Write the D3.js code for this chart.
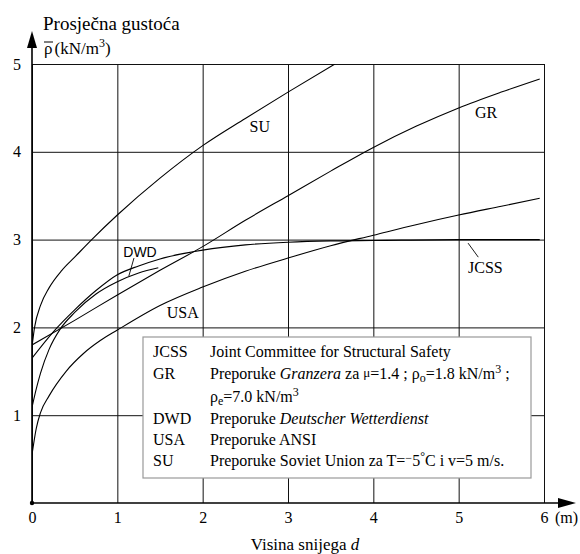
<!DOCTYPE html>
<html>
  <head>
    <meta charset="utf-8">
    <script src="https://cdn.jsdelivr.net/npm/d3@7"></script>
    <title>Prosjecna gustoca snijega</title>
  </head>
  <body style="margin:0">
    <div id="chart"></div>
    <script>
    // values: snow depth d (m) -> mean density (kN/m3)
    var depthSU   = [0, 0.03, 0.1, 0.2, 0.35, 0.5, 0.7, 1, 1.5, 2, 2.5, 3, 3.55];
    var densitySU = [1.78, 2.0, 2.25, 2.45, 2.65, 2.8, 3.0, 3.28, 3.7, 4.07, 4.38, 4.68, 5.0];

    var depthGR   = [0, 0.5, 1, 1.5, 2, 2.5, 3, 3.5, 4, 4.5, 5, 5.5, 5.95];
    var densityGR = [1.8, 2.08, 2.37, 2.65, 2.92, 3.22, 3.5, 3.78, 4.05, 4.29, 4.5, 4.68, 4.83];

    var depthJCSS   = [0, 0.25, 0.5, 0.75, 1, 1.25, 1.5, 2, 2.5, 3, 3.5, 4, 5, 5.95];
    var densityJCSS = [1.65, 1.95, 2.2, 2.42, 2.6, 2.7, 2.78, 2.88, 2.94, 2.97, 2.985, 2.99, 3.0, 3.0];

    var depthDWD   = [0, 0.05, 0.1, 0.2, 0.33, 0.5, 0.75, 1, 1.25, 1.48];
    var densityDWD = [1.09, 1.3, 1.48, 1.75, 1.98, 2.17, 2.38, 2.52, 2.62, 2.68];

    var depthUSA   = [0, 0.05, 0.1, 0.2, 0.4, 0.6, 0.8, 1, 1.5, 2, 2.5, 3, 3.5, 4, 4.5, 5, 5.5, 5.95];
    var densityUSA = [0.55, 0.85, 1.03, 1.22, 1.5, 1.7, 1.85, 1.97, 2.25, 2.46, 2.64, 2.79, 2.93, 3.05, 3.17, 3.28, 3.38, 3.47];

    var xTicks = [0, 1, 2, 3, 4, 5, 6];
    var yTicks = [1, 2, 3, 4, 5];
    var legendCodes = ["JCSS", "GR", "DWD", "USA", "SU"];

    var w = 580, h = 554;
    var serif = "Liberation Serif";
    var x = d3.scaleLinear().domain([0, 6]).range([32, 544]);
    var y = d3.scaleLinear().domain([0, 5]).range([503, 64]);

    var svg = d3.select("#chart").append("svg")
        .attr("width", w)
        .attr("height", h)
        .style("font-family", serif)
        .style("background", "#fff");

    svg.append("defs").append("clipPath").attr("id", "plot")
      .append("rect")
        .attr("x", x(0)).attr("y", y(5))
        .attr("width", x(6) - x(0)).attr("height", y(0) - y(5));

    // grid + tick labels from the axes
    var yAxis = svg.append("g")
        .attr("transform", "translate(" + x(0) + ",0)")
        .call(d3.axisLeft(y).tickValues(yTicks).tickFormat(d3.format("d"))
          .tickSize(-(x(6) - x(0))).tickPadding(11));
    var xAxis = svg.append("g")
        .attr("transform", "translate(0," + y(0) + ")")
        .call(d3.axisBottom(x).tickValues(xTicks).tickFormat(d3.format("d"))
          .tickSize(-(y(0) - y(5))).tickPadding(9));

    [xAxis, yAxis].forEach(function(g) {
      g.attr("font-family", null);
      g.select(".domain").remove();
      g.selectAll(".tick line").attr("stroke", "#111").attr("stroke-width", 1);
      g.selectAll(".tick text")
        .style("font-family", serif)
        .attr("font-size", 16)
        .attr("fill", "#000");
    });

    // main axes with arrows
    svg.append("line").attr("x1", x(0)).attr("y1", y(0)).attr("x2", x(0)).attr("y2", 40)
        .attr("stroke", "#000").attr("stroke-width", 1.6);
    svg.append("line").attr("x1", x(0)).attr("y1", y(0)).attr("x2", 566).attr("y2", y(0))
        .attr("stroke", "#000").attr("stroke-width", 1.6);
    svg.append("path").attr("d", "M" + x(0) + ",31 L" + (x(0) - 5) + ",48 L" + (x(0) + 5) + ",48 Z");
    svg.append("path").attr("d", "M576," + y(0) + " L558," + (y(0) - 5) + " L558," + (y(0) + 5) + " Z");
    svg.append("circle").attr("cx", x(0)).attr("cy", y(0)).attr("r", 2.2);

    // curves
    var line = d3.line()
        .x(function(d) { return x(d[0]); })
        .y(function(d) { return y(d[1]); })
        .curve(d3.curveMonotoneX);

    var series = [
      [depthJCSS, densityJCSS],
      [depthGR, densityGR],
      [depthDWD, densityDWD],
      [depthUSA, densityUSA],
      [depthSU, densitySU]
    ];

    svg.append("g").attr("clip-path", "url(#plot)")
      .selectAll("path")
      .data(series)
      .enter().append("path")
        .attr("d", function(s) { return line(d3.zip(s[0], s[1])); })
        .attr("fill", "none")
        .attr("stroke", "#000")
        .attr("stroke-width", 1.1);

    // curve labels
    function label(d, v, t, size) {
      return svg.append("text").attr("x", x(d)).attr("y", y(v))
        .style("font-family", serif).attr("font-size", size || 16).text(t);
    }
    label(2.55, 4.23, "SU");
    label(5.19, 4.38, "GR");
    label(5.11, 2.62, "JCSS");
    label(1.58, 2.11, "USA");
    label(1.07, 2.8, "DWD", 14).style("font-family", "Liberation Sans");
    svg.append("line").attr("x1", x(1.195)).attr("y1", y(2.79)).attr("x2", x(1.135)).attr("y2", y(2.585))
        .attr("stroke", "#000").attr("stroke-width", 0.9);
    svg.append("line").attr("x1", x(5.11)).attr("y1", y(2.96)).attr("x2", x(5.23)).attr("y2", y(2.8))
        .attr("stroke", "#000").attr("stroke-width", 0.9);

    // axis titles
    svg.append("text").attr("x", 43).attr("y", 30).attr("font-size", 19)
        .style("font-family", serif).text("Prosječna gustoća");
    var unit = svg.append("text").attr("x", 44).attr("y", 54).attr("font-size", 17)
        .style("font-family", serif);
    unit.append("tspan").text("ρ");
    unit.append("tspan").attr("dx", 2).text("(kN/m");
    unit.append("tspan").attr("font-size", 12).attr("dy", -7).text("3");
    unit.append("tspan").attr("dy", 7).text(")");
    svg.append("line").attr("x1", 44).attr("x2", 53).attr("y1", 42).attr("y2", 42)
        .attr("stroke", "#000").attr("stroke-width", 1);

    svg.append("text").attr("x", 578).attr("y", 523).attr("font-size", 16)
        .style("font-family", serif).attr("text-anchor", "end").text("(m)");
    var xt = svg.append("text").attr("x", 305).attr("y", 550).attr("font-size", 17)
        .style("font-family", serif).attr("text-anchor", "middle");
    xt.append("tspan").text("Visina snijega ");
    xt.append("tspan").attr("font-style", "italic").text("d");

    // legend
    var lg = svg.append("g");
    lg.append("rect")
        .attr("x", 143).attr("y", 337).attr("width", 388).attr("height", 141)
        .attr("fill", "#fff").attr("stroke", "#999").attr("stroke-width", 1.2);

    var rowY = { JCSS: 357, GR: 379, DWD: 424, USA: 445, SU: 466 };
    lg.selectAll("text.code")
      .data(legendCodes)
      .enter().append("text")
        .attr("class", "code")
        .attr("x", 153)
        .attr("y", function(d) { return rowY[d]; })
        .style("font-family", serif)
        .attr("font-size", 16)
        .text(function(d) { return d; });

    function row(yy) {
      return lg.append("text").attr("x", 210).attr("y", yy)
        .style("font-family", serif).attr("font-size", 16);
    }
    row(rowY.JCSS).text("Joint Committee for Structural Safety");

    var r2 = row(rowY.GR);
    r2.append("tspan").text("Preporuke ");
    r2.append("tspan").attr("font-style", "italic").text("Granzera");
    r2.append("tspan").text(" za ");
    r2.append("tspan").attr("font-size", 13).attr("dy", -2).text("μ");
    r2.append("tspan").attr("dy", 2).text("=1.4 ; ρ");
    r2.append("tspan").attr("font-size", 12).attr("dy", 3).text("o");
    r2.append("tspan").attr("dy", -3).text("=1.8 kN/m");
    r2.append("tspan").attr("font-size", 12).attr("dy", -6).text("3");
    r2.append("tspan").attr("dy", 6).text(" ;");

    var r3 = row(402);
    r3.append("tspan").text("ρ");
    r3.append("tspan").attr("font-size", 12).attr("dy", 3).text("e");
    r3.append("tspan").attr("dy", -3).text("=7.0 kN/m");
    r3.append("tspan").attr("font-size", 12).attr("dy", -6).text("3");

    var r4 = row(rowY.DWD);
    r4.append("tspan").text("Preporuke ");
    r4.append("tspan").attr("font-style", "italic").text("Deutscher Wetterdienst");

    row(rowY.USA).text("Preporuke ANSI");

    var r6 = row(rowY.SU);
    r6.append("tspan").text("Preporuke Soviet Union za T=");
    r6.append("tspan").attr("font-size", 12).attr("dy", -4).text("−");
    r6.append("tspan").attr("dy", 4).text("5");
    r6.append("tspan").attr("font-size", 12).attr("dy", -6).text("°");
    r6.append("tspan").attr("dy", 6).text("C i v=5 m/s.");
    </script>
  </body>
</html>
